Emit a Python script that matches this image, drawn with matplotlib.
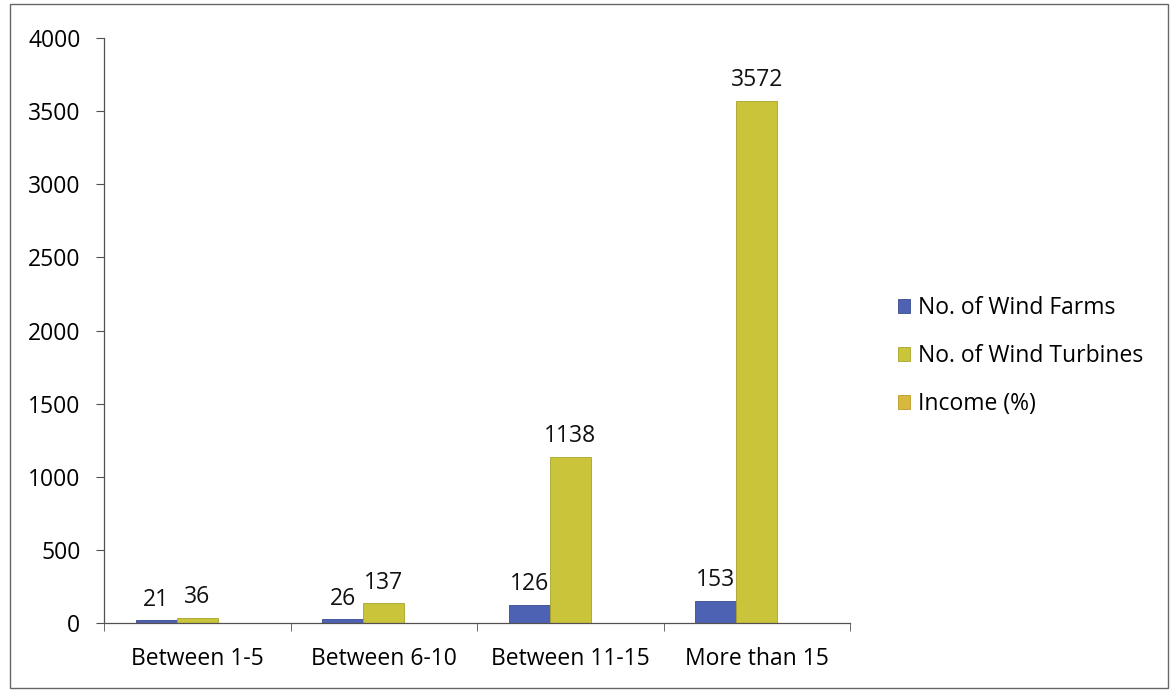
import matplotlib
matplotlib.use("Agg")
import matplotlib.pyplot as plt
import numpy as np
from matplotlib.patches import Rectangle

categories = ["Between 1-5", "Between 6-10", "Between 11-15", "More than 15"]
wind_farms = [21, 26, 126, 153]
wind_turbines = [36, 137, 1138, 3572]
income = [0, 0, 0, 0]

plt.rcParams['font.family'] = ['Open Sans', 'DejaVu Sans']
fs = 16.5

fig = plt.figure(figsize=(11.7, 6.92), dpi=100)
ax = fig.add_axes([104 / 1170, 1 - 623 / 692, (850 - 104) / 1170, (623 - 38) / 692])

x = np.arange(len(categories))
w = 0.22
b1 = ax.bar(x - w, wind_farms, w, color="#4e62b4", edgecolor="#3a4a90", linewidth=0.6, label="No. of Wind Farms")
b2 = ax.bar(x, wind_turbines, w, color="#c9c43a", edgecolor="#a8a32a", linewidth=0.6, label="No. of Wind Turbines")
b3 = ax.bar(x + w, income, w, color="#d9b93c", edgecolor="#b89a2a", linewidth=0.6, label="Income (%)")

for rects, vals in [(b1, wind_farms), (b2, wind_turbines)]:
    for r, v in zip(rects, vals):
        ax.annotate(str(v), (r.get_x() + r.get_width() / 2, r.get_height()),
                    xytext=(0, 6), textcoords="offset points",
                    ha="center", va="bottom", fontsize=fs, color="#111111")

ax.set_xlim(-0.5, len(categories) - 0.5)
ax.set_ylim(0, 4000)
ax.set_yticks(np.arange(0, 4001, 500))
ax.set_xticks(x)
ax.set_xticklabels(categories)
ax.set_xticks(np.arange(-0.5, len(categories)), minor=True)
ax.tick_params(axis="x", which="major", length=0, pad=17, labelsize=fs)
ax.tick_params(axis="x", which="minor", length=6, color="#555050", direction="out")
ax.tick_params(axis="y", length=6, color="#555050", pad=11, labelsize=fs)

for s in ["top", "right"]:
    ax.spines[s].set_visible(False)
for s in ["left", "bottom"]:
    ax.spines[s].set_color("#555050")
    ax.spines[s].set_linewidth(0.9)

ax.legend(loc="center left", bbox_to_anchor=(877 / 1170, 1 - 356 / 692),
          bbox_transform=fig.transFigure, frameon=False, fontsize=fs,
          handlelength=0.55, handleheight=0.55, handletextpad=0.35, labelspacing=1.05)

fig.patches.append(Rectangle((10 / 1170, 4 / 692), 1158 / 1170, 684 / 692,
                             transform=fig.transFigure, fill=False,
                             edgecolor="#666666", linewidth=1.0))

fig.savefig("out.png", dpi=100)
